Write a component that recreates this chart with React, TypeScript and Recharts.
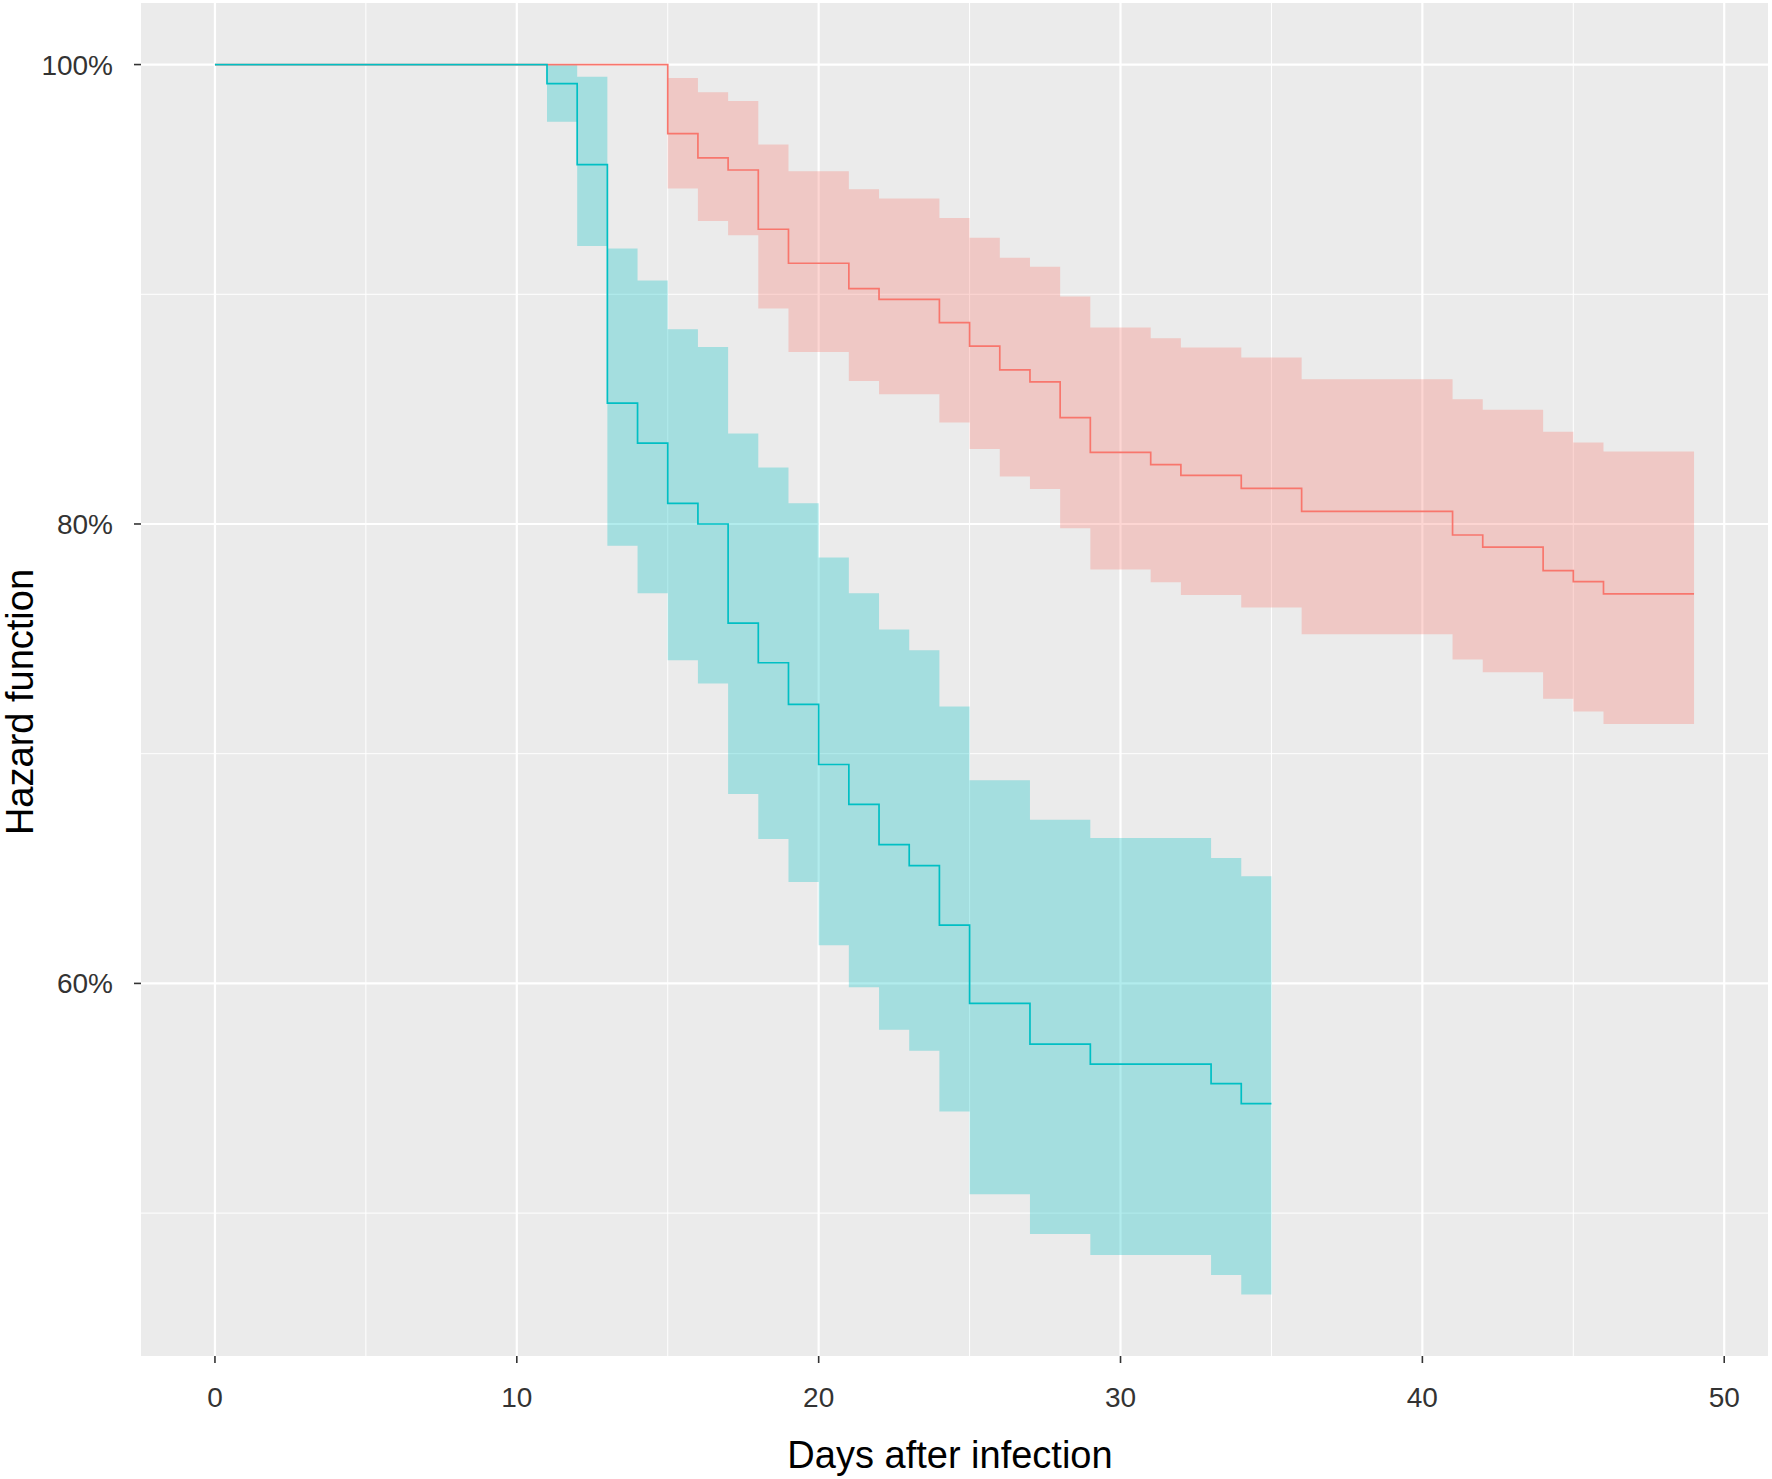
import React from 'react';
import { ComposedChart, Area, Line, XAxis, YAxis, CartesianGrid, Label } from 'recharts';

// axis ticks
const xTicks = [0, 10, 20, 30, 40, 50];
const xMinor = [5, 15, 25, 35, 45];
const yTicks = [60, 80, 100];
const yMinor = [50, 70, 90];

// teal group (steps change at these days)
const tealDays = [0, 11, 12, 13, 14, 15, 16, 17, 18, 19, 20, 21, 22, 23, 24, 25, 27, 29, 33, 34, 35];
const tealSurv = [100, 99.17, 95.64, 85.26, 83.52, 80.9, 80.0, 75.68, 73.96, 72.15, 69.53, 67.79, 66.04, 65.13, 62.54, 59.13, 57.36, 56.49, 55.64, 54.77, 54.77];
const tealLower = [100, 97.51, 92.1, 79.05, 76.99, 74.07, 73.06, 68.25, 66.29, 64.42, 61.66, 59.83, 57.98, 57.07, 54.42, 50.82, 49.09, 48.18, 47.31, 46.46, 46.46];
const tealUpper = [100, 100, 99.47, 91.99, 90.6, 88.48, 87.71, 83.94, 82.46, 80.9, 78.54, 76.98, 75.41, 74.5, 72.05, 68.84, 67.12, 66.33, 65.46, 64.67, 64.67];

// red group
const redDays = [0, 15, 16, 17, 18, 19, 21, 22, 24, 25, 26, 27, 28, 29, 31, 32, 34, 36, 41, 42, 44, 45, 46, 49];
const redSurv = [100, 96.99, 95.94, 95.41, 92.83, 91.35, 90.25, 89.78, 88.77, 87.74, 86.71, 86.19, 84.63, 83.12, 82.58, 82.12, 81.55, 80.55, 79.52, 78.99, 77.97, 77.49, 76.96, 76.96];
const redUpper = [100, 99.42, 98.8, 98.41, 96.52, 95.36, 94.57, 94.17, 93.32, 92.46, 91.59, 91.2, 89.9, 88.55, 88.09, 87.68, 87.25, 86.3, 85.43, 84.97, 84.01, 83.55, 83.16, 83.16];
const redLower = [100, 94.6, 93.19, 92.57, 89.38, 87.49, 86.23, 85.65, 84.42, 83.26, 82.07, 81.52, 79.81, 78.02, 77.46, 76.91, 76.36, 75.2, 74.1, 73.55, 72.39, 71.84, 71.29, 71.29];

const TEAL = '#00BFC4';
const RED = '#F8766D';

// value of a step series at day d (null past its last day)
const stepAt = (days: number[], vals: number[], d: number) => {
  if (d > days[days.length - 1]) return null;
  let v = vals[0];
  for (let i = 0; i < days.length; i++) if (days[i] <= d) v = vals[i];
  return v;
};

const allDays = Array.from(new Set([...tealDays, ...redDays])).sort((a, b) => a - b);
const rows = allDays.map((d) => {
  const tS = stepAt(tealDays, tealSurv, d);
  const rS = stepAt(redDays, redSurv, d);
  return {
    day: d,
    tS,
    tBand: tS == null ? null : [stepAt(tealDays, tealLower, d), stepAt(tealDays, tealUpper, d)],
    rS,
    rBand: rS == null ? null : [stepAt(redDays, redLower, d), stepAt(redDays, redUpper, d)],
  };
});

export default function App() {
  return (
    <div style={{ position: 'absolute', left: 0, top: 0, width: 1772, height: 1479, background: '#fff' }}>
      <ComposedChart
        width={1772}
        height={1479}
        data={rows}
        margin={{ top: 3, right: 4, left: 0, bottom: 0 }}
        style={{ fontFamily: '"Liberation Sans", Arial, sans-serif' }}
      >
        <CartesianGrid fill="#EBEBEB" stroke="#fff" strokeWidth={2.2} horizontalValues={yTicks} verticalValues={xTicks} />
        <CartesianGrid stroke="#fff" strokeWidth={1} horizontalValues={yMinor} verticalValues={xMinor} />
        <XAxis
          type="number"
          dataKey="day"
          domain={[-2.45, 51.45]}
          ticks={xTicks}
          allowDataOverflow
          height={123}
          axisLine={false}
          tickSize={7}
          tickMargin={24}
          tickLine={{ stroke: '#333', strokeWidth: 1.6 }}
          tick={{ fill: '#333', fontSize: 28 }}
        >
          <Label
            content={() => (
              <text x={950} y={1468} textAnchor="middle" fontSize={38} fill="#000">
                Days after infection
              </text>
            )}
          />
        </XAxis>
        <YAxis
          type="number"
          domain={[43.78, 102.68]}
          ticks={yTicks}
          allowDataOverflow
          width={141}
          axisLine={false}
          tickSize={7}
          tickMargin={21}
          tickLine={{ stroke: '#333', strokeWidth: 1.6 }}
          tick={{ fill: '#333', fontSize: 28 }}
          tickFormatter={(v: number) => `${v}%`}
        >
          <Label
            content={() => (
              <text x={33} y={702} transform="rotate(-90, 33, 702)" textAnchor="middle" fontSize={38} fill="#000">
                Hazard function
              </text>
            )}
          />
        </YAxis>
        <Area type="stepAfter" dataKey="rBand" fill={RED} fillOpacity={0.3} stroke="none" isAnimationActive={false} />
        <Area type="stepAfter" dataKey="tBand" fill={TEAL} fillOpacity={0.3} stroke="none" isAnimationActive={false} />
        <Line type="stepAfter" dataKey="rS" stroke={RED} strokeWidth={1.7} dot={false} isAnimationActive={false} />
        <Line type="stepAfter" dataKey="tS" stroke={TEAL} strokeWidth={1.7} dot={false} isAnimationActive={false} />
      </ComposedChart>
    </div>
  );
}
